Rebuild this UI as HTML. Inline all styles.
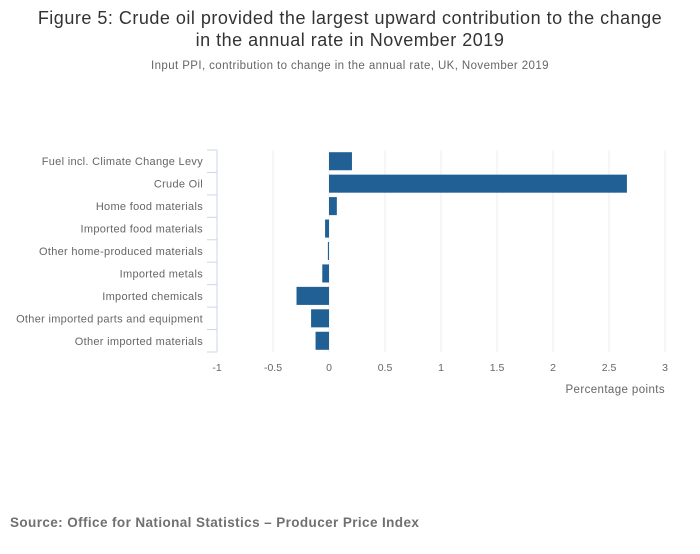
<!DOCTYPE html>
<html><head><meta charset="utf-8"><style>
body{margin:0;background:#fff;font-family:"Liberation Sans",sans-serif;}
svg text{font-family:"Liberation Sans",sans-serif;}
</style></head><body>
<svg width="700" height="549" viewBox="0 0 700 549" xmlns="http://www.w3.org/2000/svg">
<rect width="700" height="549" fill="#fff"/>
<text x="350" y="24" text-anchor="middle" font-size="18" letter-spacing="0.5" fill="#333">Figure 5: Crude oil provided the largest upward contribution to the change</text>
<text x="350" y="46" text-anchor="middle" font-size="18" letter-spacing="0.5" fill="#333">in the annual rate in November 2019</text>
<text x="350" y="69" text-anchor="middle" font-size="11.5" letter-spacing="0.4" fill="#666">Input PPI, contribution to change in the annual rate, UK, November 2019</text>
<g id="grid"></g>
<g id="bars"></g>
<g id="axes"></g>
<text x="665" y="393" text-anchor="end" font-size="11.5" letter-spacing="0.4" fill="#666">Percentage points</text>
<text x="10" y="527" font-size="13.5" letter-spacing="0.4" font-weight="bold" fill="#707070">Source: Office for National Statistics – Producer Price Index</text>
</svg>
<script>
const categories = ["Fuel incl. Climate Change Levy","Crude Oil","Home food materials","Imported food materials","Other home-produced materials","Imported metals","Imported chemicals","Other imported parts and equipment","Other imported materials"];
const values = [0.205, 2.66, 0.07, -0.035, -0.01, -0.06, -0.29, -0.16, -0.12];
const xTicks = [-1, -0.5, 0, 0.5, 1, 1.5, 2, 2.5, 3];
const xTickLabels = ["-1","-0.5","0","0.5","1","1.5","2","2.5","3"];

const NS = "http://www.w3.org/2000/svg";
const x0 = 217, x1 = 665, yTop = 150, yBottom = 352;
const xs = v => x0 + (v - xTicks[0]) / (xTicks[xTicks.length-1] - xTicks[0]) * (x1 - x0);
const band = (yBottom - yTop) / categories.length;
function mk(tag, attrs, parent){const e=document.createElementNS(NS,tag);for(const k in attrs)e.setAttribute(k,attrs[k]);parent.appendChild(e);return e;}
const grid=document.getElementById('grid'), bars=document.getElementById('bars'), axes=document.getElementById('axes');
xTicks.forEach((t,i)=>{
  if(i>0){const l=mk('line',{x1:xs(t),x2:xs(t),y1:yTop,y2:yBottom,stroke:'#ececec','stroke-width':1},grid);
  
  }
  const tx=mk('text',{x:xs(t),y:371,'text-anchor':'middle','font-size':10.5,fill:'#666'},axes);
  tx.textContent=xTickLabels[i];
  
  
});
const al=mk('line',{x1:x0,x2:x0,y1:yTop,y2:yBottom,stroke:'#ccd6eb','stroke-width':1},axes);


for(let i=0;i<=categories.length;i++){
  const y=yTop+i*band;
  const tk=mk('line',{x1:x0-10,x2:x0,y1:y,y2:y,stroke:'#ccd6eb','stroke-width':1},axes);
  
  
}
categories.forEach((c,i)=>{
  const y=yTop+i*band;
  const tx=mk('text',{x:203,y:y+band/2+4,'text-anchor':'end','font-size':11,'letter-spacing':0.3,fill:'#666'},axes);
  tx.textContent=c;
  
  
  const v=values[i];
  const a=xs(Math.min(0,v)), b=xs(Math.max(0,v));
  const r=mk('rect',{x:a,y:y+2.2,width:Math.max(1,b-a),height:band-4.4,fill:'#206095'},bars);
  
  
});
</script>
</body></html>
